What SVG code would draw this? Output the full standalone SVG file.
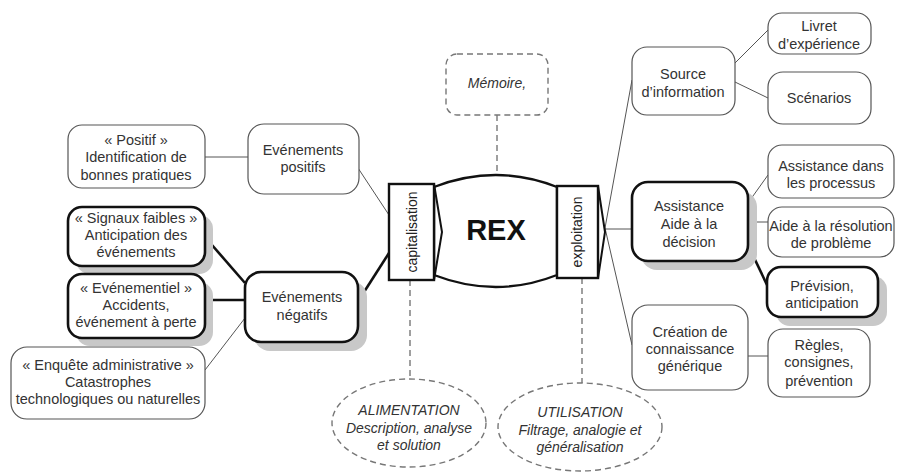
<svg xmlns="http://www.w3.org/2000/svg" width="897" height="472" viewBox="0 0 897 472">
<style>
  .thin { fill: #fff; stroke: #555; stroke-width: 1.2; }
  .thick { fill: #fff; stroke: #111; stroke-width: 2.6; }
  .shadow { fill: #c8c8c8; stroke: none; }
  .dash { fill: #fff; stroke: #777; stroke-width: 1.4; stroke-dasharray: 6 4; }
  .cthin { stroke: #555; stroke-width: 1; fill: none; }
  .cthick { stroke: #111; stroke-width: 2.6; fill: none; }
  .cdash { stroke: #777; stroke-width: 1.4; stroke-dasharray: 6 4; fill: none; }
  text { font-family: "Liberation Sans", Arial, sans-serif; font-size: 14.5px; fill: #333; text-anchor: middle; }
  .it { font-style: italic; font-size: 14px; }
  .rot { font-size: 14px; fill: #222; }
  .rex { font-size: 29px; font-weight: bold; fill: #111; }
</style>
<rect width="897" height="472" fill="#fff"/>

<g id="connectors">
  <line class="cthin" x1="205" y1="157" x2="248" y2="157"/>
  <line class="cthick" x1="205" y1="237" x2="245" y2="283"/>
  <line class="cthick" x1="205" y1="300" x2="245" y2="300"/>
  <line class="cthin" x1="205" y1="370" x2="245" y2="318"/>
  <line class="cthin" x1="358" y1="168" x2="389" y2="215"/>
  <line class="cthick" x1="357" y1="303" x2="389" y2="253"/>
  <line class="cthin" x1="632" y1="80" x2="605" y2="228"/>
  <line class="cthin" x1="605" y1="229" x2="632" y2="229"/>
  <line class="cthin" x1="605" y1="228" x2="632" y2="345"/>
  <line class="cthin" x1="735" y1="63" x2="768" y2="30"/>
  <line class="cthin" x1="735" y1="82" x2="768" y2="98"/>
  <line class="cthin" x1="748" y1="203" x2="768" y2="175"/>
  <line class="cthin" x1="748" y1="222" x2="768" y2="222"/>
  <line class="cthick" x1="748" y1="245" x2="768" y2="287"/>
  <line class="cthin" x1="748" y1="356" x2="768" y2="356"/>
  <line class="cdash" x1="497" y1="115" x2="497" y2="175"/>
  <line class="cdash" x1="410" y1="280" x2="410" y2="379"/>
  <line class="cdash" x1="582" y1="278" x2="582" y2="383"/>
</g>

<g id="rex">
  <path d="M434 187 Q496 163 557 187 L557 275 Q496 299 434 275 Z" fill="#fff" stroke="#111" stroke-width="2.4"/>
  <text class="rex" x="496" y="240">REX</text>
</g>

<g id="capitalisation">
  <rect x="389" y="184" width="45" height="96" fill="#fff" stroke="#111" stroke-width="2.4"/>
  <polyline points="434,184 442,232 434,280" fill="none" stroke="#111" stroke-width="2"/>
  <text class="rot" transform="translate(417,232) rotate(-90)">capitalisation</text>
</g>

<g id="exploitation">
  <rect x="557" y="186" width="41" height="92" fill="#fff" stroke="#111" stroke-width="2.4"/>
  <polyline points="598,186 605,232 598,278" fill="none" stroke="#111" stroke-width="2"/>
  <text class="rot" transform="translate(582,232) rotate(-90)">exploitation</text>
</g>

<g id="memoire">
  <rect class="dash" x="446" y="54" width="102" height="61" rx="11"/>
  <text class="it" x="497" y="88">Mémoire,</text>
</g>

<g id="alimentation">
  <ellipse class="dash" cx="409" cy="423" rx="77" ry="44"/>
  <text class="it" x="409" y="415">ALIMENTATION</text>
  <text class="it" x="409" y="433">Description, analyse</text>
  <text class="it" x="409" y="450">et solution</text>
</g>

<g id="utilisation">
  <ellipse class="dash" cx="580" cy="427" rx="82" ry="44"/>
  <text class="it" x="580" y="417">UTILISATION</text>
  <text class="it" x="580" y="435">Filtrage, analogie et</text>
  <text class="it" x="580" y="452">généralisation</text>
</g>

<g id="positif">
  <rect class="thin" x="68" y="125" width="137" height="63" rx="14"/>
  <text x="136" y="145">« Positif »</text>
  <text x="136" y="162">Identification de</text>
  <text x="136" y="180">bonnes pratiques</text>
</g>

<g id="evenements-positifs">
  <rect class="thin" x="248" y="124" width="111" height="70" rx="16"/>
  <text x="303" y="155">Evénements</text>
  <text x="303" y="172">positifs</text>
</g>

<g id="signaux-faibles">
  <rect class="shadow" x="76" y="215" width="137" height="59" rx="14"/>
  <rect class="thick" x="68" y="207" width="137" height="59" rx="14"/>
  <text x="136" y="223">« Signaux faibles »</text>
  <text x="136" y="240">Anticipation des</text>
  <text x="136" y="257">événements</text>
</g>

<g id="evenementiel">
  <rect class="shadow" x="76" y="282" width="137" height="64" rx="14"/>
  <rect class="thick" x="68" y="274" width="137" height="64" rx="14"/>
  <text x="136" y="293">« Evénementiel »</text>
  <text x="136" y="310">Accidents,</text>
  <text x="136" y="327">événement à perte</text>
</g>

<g id="evenements-negatifs">
  <rect class="shadow" x="254" y="281" width="113" height="70" rx="16"/>
  <rect class="thick" x="245" y="272" width="113" height="70" rx="16"/>
  <text x="302" y="302">Evénements</text>
  <text x="302" y="320">négatifs</text>
</g>

<g id="enquete">
  <rect class="thin" x="11" y="347" width="194" height="72" rx="16"/>
  <text x="108" y="370">« Enquête administrative »</text>
  <text x="108" y="387">Catastrophes</text>
  <text x="108" y="404">technologiques ou naturelles</text>
</g>

<g id="source">
  <rect class="thin" x="632" y="47" width="103" height="68" rx="15"/>
  <text x="683" y="79">Source</text>
  <text x="683" y="97">d’information</text>
</g>

<g id="livret">
  <rect class="thin" x="768" y="13" width="103" height="41" rx="14"/>
  <text x="819" y="31">Livret</text>
  <text x="819" y="49">d’expérience</text>
</g>

<g id="scenarios">
  <rect class="thin" x="768" y="72" width="103" height="52" rx="15"/>
  <text x="819" y="103">Scénarios</text>
</g>

<g id="assistance">
  <rect class="shadow" x="641" y="191" width="116" height="79" rx="16"/>
  <rect class="thick" x="632" y="182" width="116" height="79" rx="16"/>
  <text x="689" y="211">Assistance</text>
  <text x="689" y="229">Aide à la</text>
  <text x="689" y="247">décision</text>
</g>

<g id="assistance-processus">
  <rect class="thin" x="768" y="145" width="126" height="53" rx="14"/>
  <text x="831" y="171">Assistance dans</text>
  <text x="831" y="188">les processus</text>
</g>

<g id="aide-resolution">
  <rect class="thin" x="768" y="207" width="126" height="50" rx="14"/>
  <text x="831" y="231">Aide à la résolution</text>
  <text x="831" y="248">de problème</text>
</g>

<g id="prevision">
  <rect class="shadow" x="776" y="276" width="111" height="50" rx="14"/>
  <rect class="thick" x="767" y="267" width="111" height="50" rx="14"/>
  <text x="822" y="291">Prévision,</text>
  <text x="822" y="308">anticipation</text>
</g>

<g id="creation">
  <rect class="thin" x="632" y="305" width="116" height="85" rx="16"/>
  <text x="690" y="337">Création de</text>
  <text x="690" y="354">connaissance</text>
  <text x="690" y="371">générique</text>
</g>

<g id="regles">
  <rect class="thin" x="768" y="329" width="102" height="68" rx="15"/>
  <text x="819" y="350">Règles,</text>
  <text x="819" y="367">consignes,</text>
  <text x="819" y="386">prévention</text>
</g>
</svg>
